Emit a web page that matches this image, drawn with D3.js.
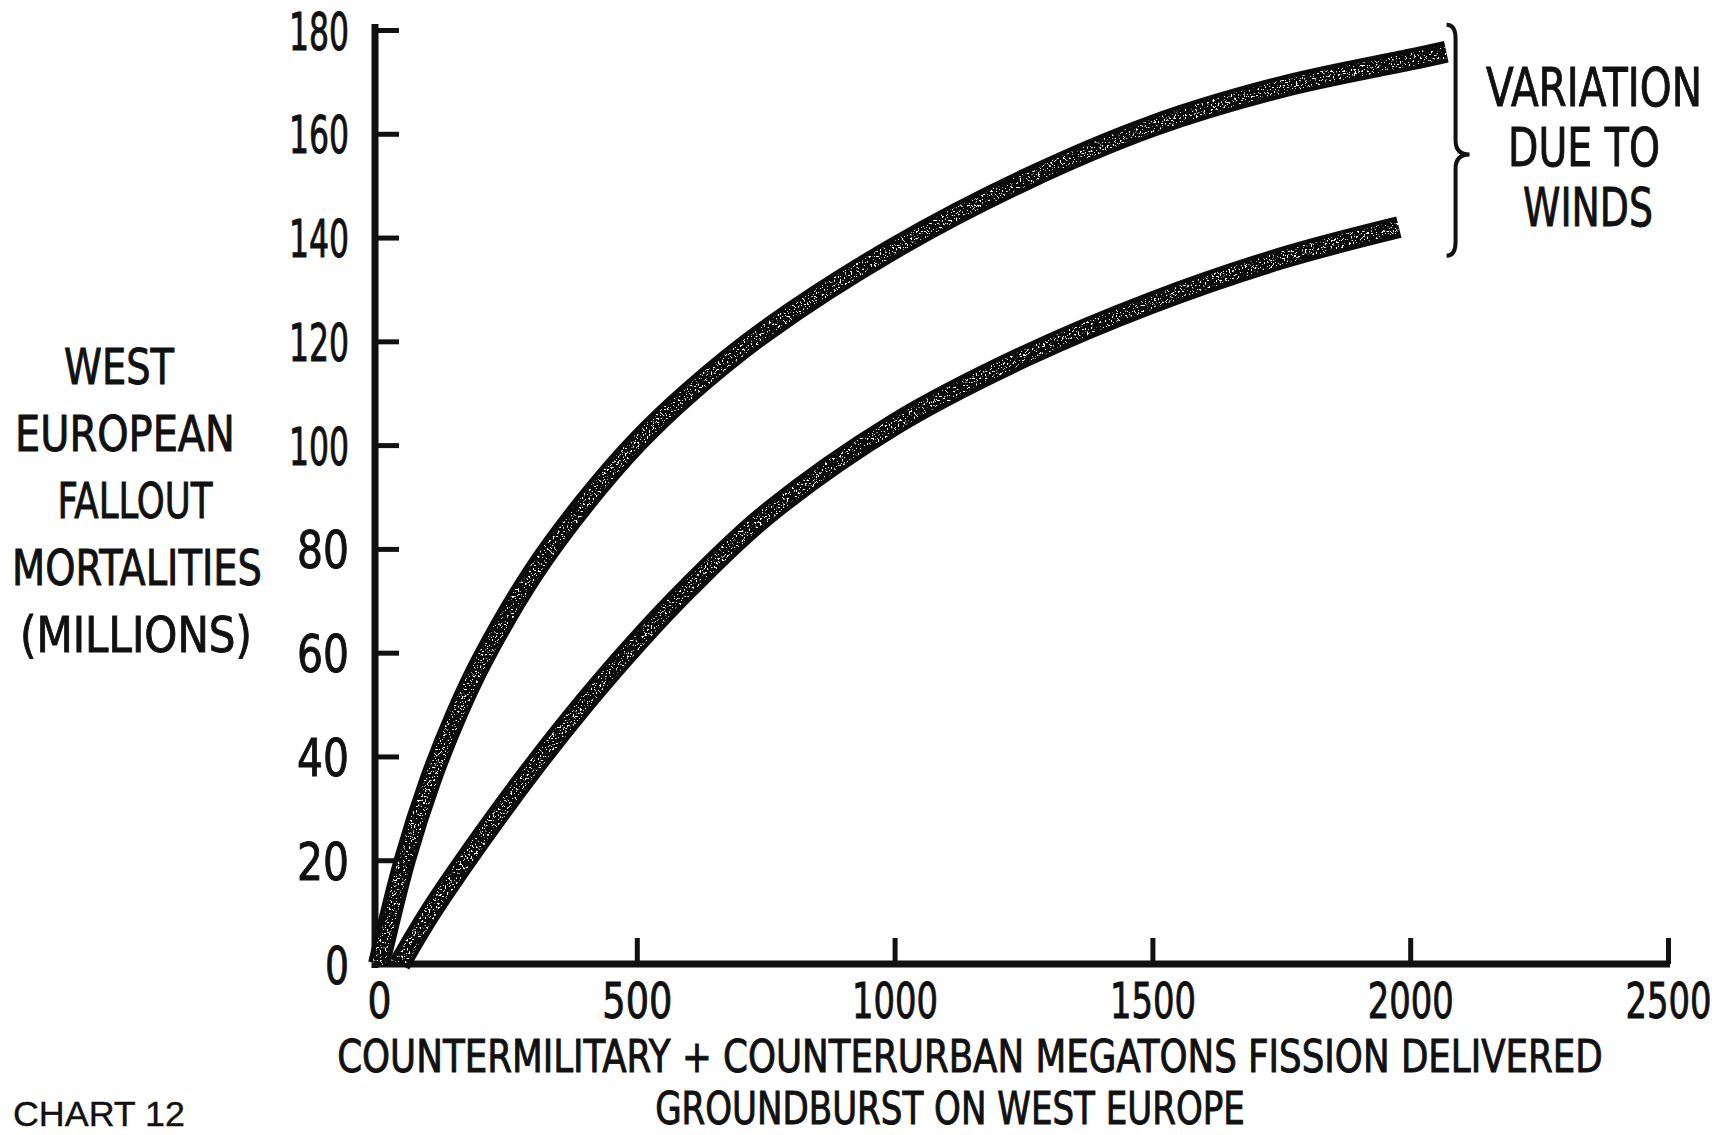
<!DOCTYPE html>
<html>
<head>
<meta charset="utf-8">
<script src="https://cdn.jsdelivr.net/npm/d3@7"></script>
<style>
  html, body { margin: 0; padding: 0; background: #fff; }
  svg { display: block; }
  text { font-family: "DejaVu Sans Condensed", "Liberation Sans Narrow", "DejaVu Sans", sans-serif; fill: #111; stroke: #111; stroke-width: 0.9px; }
</style>
</head>
<body>
<svg id="chart" width="1712" height="1135"></svg>
<script>
// ---------------- data ----------------
const xTicks = [0, 500, 1000, 1500, 2000, 2500];
const yTicks = [0, 20, 40, 60, 80, 100, 120, 140, 160, 180];

// upper curve (high-mortality wind case)
const upperX = [0, 50, 100, 150, 200, 300, 400, 500, 600, 750, 1000, 1250, 1500, 1750, 2000, 2070];
const upperY = [0, 20, 35.5, 48, 58.5, 75.5, 89, 100.5, 110, 122, 138, 151, 161.5, 169, 174.3, 175.8];

// lower curve (low-mortality wind case)
const lowerX = [40, 100, 200, 300, 400, 500, 600, 750, 1000, 1250, 1500, 1750, 1978];
const lowerY = [0, 10, 24.5, 38, 50.5, 62, 72.5, 86.5, 104, 117, 127.5, 136, 142];

const yTitle = ["WEST", "EUROPEAN", "FALLOUT", "MORTALITIES", "(MILLIONS)"];
const xTitle = ["COUNTERMILITARY + COUNTERURBAN MEGATONS FISSION DELIVERED", "GROUNDBURST ON WEST EUROPE"];
const noteLines = ["VARIATION", "DUE TO", "WINDS"];
const chartLabel = "CHART 12";

// ---------------- layout ----------------
const svg = d3.select("#chart");
const x = d3.scaleLinear().domain([0, 2500]).range([379, 1668]);
const y = d3.scaleLinear().domain([0, 180]).range([964, 30]);

// squeeze a text horizontally to a target width, keeping its anchor point
function fit(sel, widthFn, ox, oy) {
  sel.each(function(d, i) {
    const t = d3.select(this);
    const w = this.getComputedTextLength();
    const target = typeof widthFn === "function" ? widthFn(d, i) : widthFn;
    const sx = target / w;
    const tx = typeof ox === "function" ? ox(d, i) : ox;
    const ty = typeof oy === "function" ? oy(d, i) : oy;
    t.attr("x", 0).attr("y", 0)
     .attr("transform", `translate(${tx},${ty}) scale(${sx},1)`);
  });
}

// grain filter for the hand-shaded bands
const defs = svg.append("defs");
const f = defs.append("filter").attr("id", "grain")
  .attr("filterUnits", "userSpaceOnUse")
  .attr("x", 0).attr("y", 0).attr("width", 1712).attr("height", 1135);
f.append("feTurbulence").attr("type", "fractalNoise").attr("baseFrequency", 0.55)
  .attr("numOctaves", 2).attr("seed", 7).attr("result", "noise");
f.append("feColorMatrix").attr("in", "noise").attr("type", "matrix")
  .attr("values", "0 0 0 0 1  0 0 0 0 1  0 0 0 0 1  16 0 0 0 -9.6").attr("result", "speck");
f.append("feComposite").attr("in", "speck").attr("in2", "SourceGraphic").attr("operator", "in");

// ---------------- axes ----------------
const yAxis = d3.axisLeft(y).tickValues(yTicks).tickSizeInner(-24).tickSizeOuter(0)
  .tickPadding(26).tickFormat(d3.format("d"));
const gy = svg.append("g").attr("transform", "translate(375,0)").call(yAxis);
gy.select(".domain").remove();
gy.selectAll(".tick line").attr("stroke", "#111").attr("stroke-width", 5);
gy.selectAll(".tick text")
  .attr("font-size", 51).attr("fill", "#111").attr("dy", null)
  .call(fit, d => d === 0 ? 24 : (d < 100 ? 52 : 60), -26, 19);

const xAxis = d3.axisBottom(x).tickValues(xTicks).tickSizeInner(-26).tickSizeOuter(0)
  .tickPadding(18).tickFormat(d3.format("d"));
const gx = svg.append("g").attr("transform", "translate(0,964)").call(xAxis);
gx.select(".domain").remove();
gx.selectAll(".tick line").attr("stroke", "#111").attr("stroke-width", 5)
  .filter(d => d === 0).remove();
gx.selectAll(".tick text")
  .attr("font-size", 50).attr("fill", "#111").attr("dy", null)
  .call(fit, d => d === 0 ? 24 : (String(d).length === 3 ? 70 : 86), 0, 54);

// axis lines
svg.append("line").attr("x1", 375).attr("x2", 375).attr("y1", y(180) - 6).attr("y2", 968)
  .attr("stroke", "#111").attr("stroke-width", 7);
svg.append("line").attr("x1", 372).attr("x2", x(2500) + 2).attr("y1", 964).attr("y2", 964)
  .attr("stroke", "#111").attr("stroke-width", 7);

// ---------------- curves ----------------
const line = d3.line().x(d => x(d[0])).y(d => y(d[1])).curve(d3.curveCatmullRom.alpha(0.5));
const series = [d3.zip(upperX, upperY), d3.zip(lowerX, lowerY)];
const gc = svg.append("g");
series.forEach(s => {
  gc.append("path").attr("d", line(s)).attr("fill", "none")
    .attr("stroke", "#0b0b0b").attr("stroke-width", 22).attr("stroke-linecap", "butt");
  gc.append("path").attr("d", line(s)).attr("fill", "none")
    .attr("stroke", "#fff").attr("stroke-width", 13).attr("stroke-linecap", "butt")
    .attr("filter", "url(#grain)");
});

// ---------------- brace ----------------
const bx = x(2088), bTop = y(181), bBot = y(136.5), bMid = y(156);
const bp = d3.path();
bp.moveTo(bx - 9, bTop);
bp.quadraticCurveTo(bx, bTop, bx, bTop + 14);
bp.lineTo(bx, bMid - 14);
bp.quadraticCurveTo(bx, bMid, bx + 14, bMid);
bp.quadraticCurveTo(bx, bMid, bx, bMid + 14);
bp.lineTo(bx, bBot - 14);
bp.quadraticCurveTo(bx, bBot, bx - 9, bBot);
svg.append("path").attr("d", bp.toString()).attr("fill", "none")
  .attr("stroke", "#111").attr("stroke-width", 4);

// ---------------- texts ----------------
const noteX = [1594, 1584, 1588];
const noteW = [216, 152, 130];
svg.append("g").selectAll("text").data(noteLines).join("text")
  .attr("text-anchor", "middle").attr("font-size", 54)
  .text(d => d)
  .call(fit, (d, i) => noteW[i], (d, i) => noteX[i], (d, i) => 106 + i * 60);

const ytX = [119, 125, 135, 137, 136];
const ytW = [110, 220, 155, 250, 232];
svg.append("g").selectAll("text").data(yTitle).join("text")
  .attr("text-anchor", "middle").attr("font-size", 50)
  .text(d => d)
  .call(fit, (d, i) => ytW[i], (d, i) => ytX[i], (d, i) => 384 + i * 67);

const xtX = [970, 950];
const xtW = [1266, 590];
svg.append("g").selectAll("text").data(xTitle).join("text")
  .attr("text-anchor", "middle").attr("font-size", 44)
  .text(d => d)
  .call(fit, (d, i) => xtW[i], (d, i) => xtX[i], (d, i) => 1072 + i * 52);

svg.append("text").attr("font-size", 36)
  .style("font-family", "'Liberation Sans', Arial, sans-serif")
  .style("stroke-width", "0.4px")
  .text(chartLabel)
  .call(fit, 172, 13, 1126);
</script>
</body>
</html>
